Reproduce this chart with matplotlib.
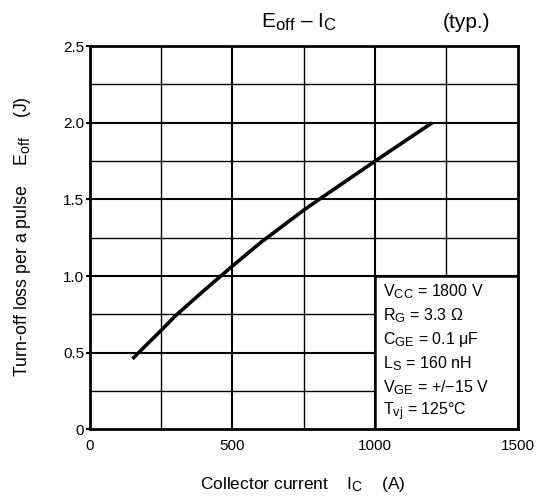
import matplotlib
matplotlib.use("Agg")
import matplotlib.pyplot as plt
import matplotlib._mathtext as mathtext
from matplotlib.patches import Rectangle

plt.rcParams['font.family'] = ['Liberation Sans', 'DejaVu Sans']
plt.rcParams['mathtext.fontset'] = 'custom'
plt.rcParams['mathtext.rm'] = 'Liberation Sans'
plt.rcParams['mathtext.it'] = 'Liberation Sans:italic'
# subscripts in the original are a bit bigger than mathtext default
mathtext.SHRINK_FACTOR = 0.8

# curve
ic = [150, 200, 250, 300, 400, 500, 600, 750, 800, 1000, 1200]
eoff = [0.46, 0.553, 0.645, 0.74, 0.905, 1.065, 1.22, 1.43, 1.495, 1.75, 2.0]

x_major = [0, 500, 1000, 1500]
x_minor = [250, 750, 1250]
y_major = [0, 0.5, 1.0, 1.5, 2.0, 2.5]
y_minor = [0.25, 0.75, 1.25, 1.75, 2.25]
y_labels = ["0", "0.5", "1.0", "1.5", "2.0", "2.5"]

conditions = [
    r"V$_{\mathrm{CC}}$ = 1800 V",
    r"R$_{\mathrm{G}}$ = 3.3 Ω",
    r"C$_{\mathrm{GE}}$ = 0.1 μF",
    r"L$_{\mathrm{S}}$ = 160 nH",
    r"V$_{\mathrm{GE}}$ = +/−15 V",
    r"T$_{\mathrm{vj}}$ = 125°C",
]

fig = plt.figure(figsize=(5.4, 5.01), dpi=100)
ax = fig.add_axes([0.166, 0.143, 0.793, 0.765])
ax.set_xlim(0, 1500)
ax.set_ylim(0, 2.5)

# grid
for v in x_minor:
    ax.axvline(v, color="black", lw=1.0, zorder=1)
for v in x_major[1:-1]:
    ax.axvline(v, color="black", lw=1.5, zorder=1)
for v in y_minor:
    ax.axhline(v, color="black", lw=1.0, zorder=1)
for v in y_major[1:-1]:
    ax.axhline(v, color="black", lw=1.5, zorder=1)

ax.plot(ic, eoff, color="black", lw=2.6, zorder=3, solid_capstyle="butt")

# conditions box
ax.add_patch(Rectangle((1000, 0), 500, 1.0, facecolor="white", edgecolor="black",
                       lw=1.8, zorder=2))
for i, s in enumerate(conditions):
    ax.text(1028, 0.895 - i * 0.156, s, fontsize=11.5, va="center", ha="left", zorder=4)

for sp in ax.spines.values():
    sp.set_linewidth(2.0)
    sp.set_zorder(5)

ax.set_xticks(x_major)
ax.set_xticklabels([str(v) for v in x_major])
ax.set_yticks(y_major)
ax.set_yticklabels(y_labels)
ax.tick_params(axis="x", length=0, pad=7, labelsize=11)
ax.tick_params(axis="y", length=3, width=1.5, pad=1, labelsize=11)

fig.text(0.554, 0.956, r"E$_{\mathrm{off}}$ – I$_{\mathrm{C}}$", fontsize=15,
         ha="center", va="center")
fig.text(0.863, 0.956, "(typ.)", fontsize=15, ha="center", va="center")
fig.text(0.560, 0.032, r"Collector current    I$_{\mathrm{C}}$    (A)", fontsize=12.5,
         ha="center", va="center")
fig.text(0.041, 0.527, r"Turn-off loss per a pulse    E$_{\mathrm{off}}$    (J)",
         fontsize=12.8, ha="center", va="center", rotation=90)

fig.savefig("out.png", dpi=100)
